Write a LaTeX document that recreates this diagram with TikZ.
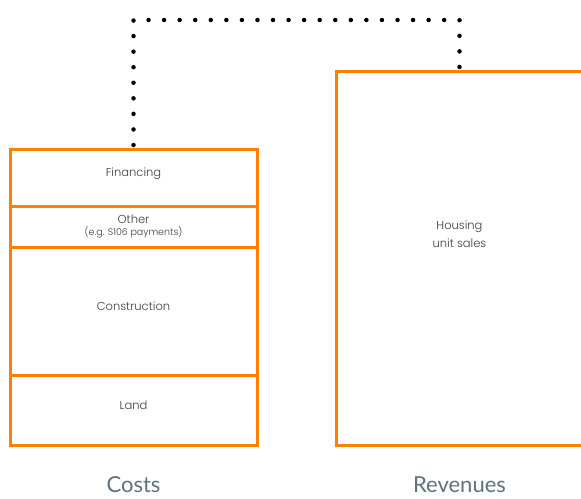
\documentclass[tikz,border=0pt]{standalone}
\usepackage{fontspec}
\setmainfont{Poppins Light}
\newfontfamily\labelfont{Lato}
\usetikzlibrary{positioning}
\definecolor{boxorange}{HTML}{FF8000}
\definecolor{textgrey}{HTML}{3C3C3C}
\definecolor{labelgrey}{HTML}{5E717C}
\begin{document}
\begin{tikzpicture}[x=1pt,y=-1pt,
  part/.style={draw=boxorange, line width=3pt, minimum width=247pt, outer sep=0pt,
    inner sep=0pt, align=center, text=textgrey, font=\fontsize{11.5}{14}\selectfont},
  caption/.style={text=labelgrey, font=\labelfont\fontsize{22}{26}\selectfont},
  dotline/.style={line width=4.5pt, line cap=round, dash pattern=on 0pt off 15.56pt}]
\useasboundingbox (0,0) rectangle (581,498);

% cost stack
\node[part, minimum height=57pt] (fin) at (133.5,177.5) {Financing\\[-4pt]};
\node[part, minimum height=41pt, below=0pt of fin] (other)
  {Other\\[-2pt]{\fontsize{9.5}{11}\selectfont (e.g. S106 payments)}};
\node[part, minimum height=128pt, below=0pt of other] (cons) {Construction\\[-4pt]};
\node[part, minimum height=70pt, below=0pt of cons] (land) {Land\\[-4pt]};

% revenue
\node[part, minimum height=374pt] (rev) at (459.5,258) {};
\node[text=textgrey, align=center, font=\fontsize{11.5}{18}\selectfont] (housing)
  at ([yshift=24pt]rev.center) {Housing\\unit sales};

\node[caption] (costs) at (133.5,485) {Costs};
\node[caption] (revenues) at (459.5,485) {Revenues};

% dotted link
\coordinate (top) at (0,20);
\draw[dotline] ([yshift=4pt]fin.north) |- (top -| rev.north) -- ([yshift=4pt]rev.north);
\end{tikzpicture}
\end{document}
